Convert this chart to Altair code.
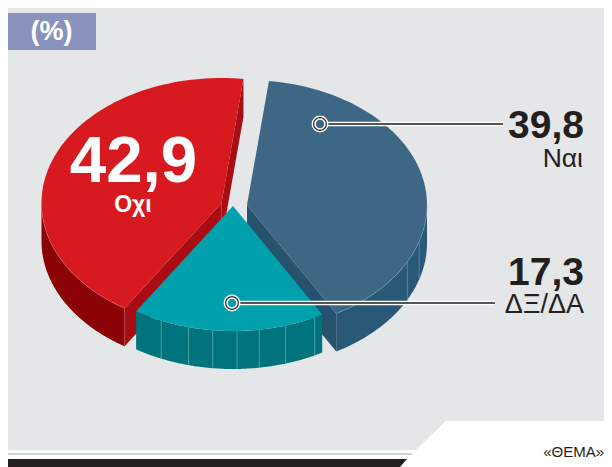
import numpy as np
import pandas as pd
import altair as alt

# --- chart values
categories = ["Ναι", "ΔΞ/ΔΑ", "Οχι"]
values = [39.8, 17.3, 42.9]
top_colors = ["#3d6785", "#00a0ad", "#d71920"]
outer_colors = ["#2a5877", "#00747c", "#8b0305"]
cut_colors = ["#27526d", "#00747c", "#aa0c14"]
start_angle = 7.0
# exploded slice apex positions (page pixels)
apex_x = [247, 233, 221.5]
apex_y = [205, 206, 203]
rx, ry, depth = 180, 125, 38
rib_angles = [[107, 117], [153, 163, 171.6, 178.7, 186.5, 194.3, 203.5], []]

RIGHT = 604
x_scale = alt.Scale(domain=[8, RIGHT], range=[0, RIGHT - 8])
y_scale = alt.Scale(domain=[8, 467], range=[0, 459])


def poly(xs, ys, color):
    df = pd.DataFrame({"x": xs, "y": ys, "i": range(len(xs))})
    return alt.Chart(df).mark_line(fill=color, strokeWidth=0, interpolate="linear-closed").encode(
        x=alt.X("x:Q", scale=x_scale, axis=None),
        y=alt.Y("y:Q", scale=y_scale, axis=None),
        order=alt.Order("i:Q"),
    )


def stroke(xs, ys, color, width, opacity=1.0):
    df = pd.DataFrame({"x": xs, "y": ys, "i": range(len(xs))})
    return alt.Chart(df).mark_line(color=color, strokeWidth=width, opacity=opacity).encode(
        x=alt.X("x:Q", scale=x_scale, axis=None),
        y=alt.Y("y:Q", scale=y_scale, axis=None),
        order=alt.Order("i:Q"),
    )


def label(text, x, y, size, color="#231f20", bold=True, align="right"):
    df = pd.DataFrame({"x": [x], "y": [y], "t": [text]})
    return alt.Chart(df).mark_text(
        font="Liberation Sans", fontSize=size, fontWeight="bold" if bold else "normal",
        color=color, align=align, baseline="alphabetic",
    ).encode(
        x=alt.X("x:Q", scale=x_scale, axis=None),
        y=alt.Y("y:Q", scale=y_scale, axis=None),
        text="t:N",
    )


def dot(x, y, size, color):
    df = pd.DataFrame({"x": [x], "y": [y]})
    return alt.Chart(df).mark_point(filled=True, size=size, color=color, opacity=1, strokeWidth=0).encode(
        x=alt.X("x:Q", scale=x_scale, axis=None),
        y=alt.Y("y:Q", scale=y_scale, axis=None),
    )


def rim(cx, cy, a0, a1, n=90):
    t = np.radians(np.linspace(a0, a1, n))
    return cx + rx * np.sin(t), cy - ry * np.cos(t)


# slice angle spans follow from the values
spans = []
a = start_angle
for v in values:
    spans.append((a, a + v * 3.6))
    a += v * 3.6

layers = []

# panel background and footer
layers.append(poly([8, RIGHT, RIGHT, 445.7, 416, 8], [8, 8, 421, 421, 450, 450], "#e4e6e8"))
layers.append(stroke([8, 412], [454, 454], "#a8a8a8", 1.2))
layers.append(poly([8, 407, 400, 8], [459, 459, 467, 467], "#231f20"))

# unit badge
layers.append(poly([8, 96, 96, 8], [13, 13, 50, 50], "#8a93bd"))
layers.append(label("(%)", 51.5, 40, 27, color="#ffffff", align="center"))


def side_faces(k, a0, a1):
    cx, cy = apex_x[k], apex_y[k]
    xs, ys = rim(cx, cy, a0, a1)
    return poly(list(xs) + list(xs[::-1]), list(ys) + list((ys + depth)[::-1]), outer_colors[k])


def cut_face(k, angle):
    cx, cy = apex_x[k], apex_y[k]
    ex, ey = rim(cx, cy, angle, angle, 1)
    return poly([cx, ex[0], ex[0], cx], [cy, ey[0], ey[0] + depth, cy + depth], cut_colors[k])


def ribs(k, light):
    out = []
    cx, cy = apex_x[k], apex_y[k]
    for r in rib_angles[k]:
        ex, ey = rim(cx, cy, r, r, 1)
        out.append(stroke([ex[0], ex[0]], [ey[0], ey[0] + depth], light, 0.7))
    return out


def top(k):
    cx, cy = apex_x[k], apex_y[k]
    xs, ys = rim(cx, cy, *spans[k])
    return poly([cx] + list(xs), [cy] + list(ys), top_colors[k])


# blue slice
layers += [cut_face(0, spans[0][1]), side_faces(0, 90, spans[0][1])]
layers += ribs(0, "#6f90a6")
layers.append(top(0))
xs, ys = rim(apex_x[0], apex_y[0], 90, spans[0][1])
layers.append(stroke(list(xs), list(ys), "#7f9cb1", 0.6))

# red slice
red_a0, red_a1 = spans[2]
layers += [side_faces(2, red_a0, 270), cut_face(2, red_a0), cut_face(2, red_a1)]
layers.append(top(2))
xs, ys = rim(apex_x[2], apex_y[2], red_a0, 270)
layers.append(stroke(list(xs), list(ys), "#e2676a", 0.5))
ex, ey = rim(apex_x[2], apex_y[2], red_a0, red_a0, 1)
layers.append(stroke([ex[0], ex[0]], [ey[0], ey[0] + depth], "#b8484c", 0.6))

# teal slice
layers.append(side_faces(1, *spans[1]))
layers += ribs(1, "#62b3b9")
layers.append(top(1))

# leaders
for (x0, x1, y, fill) in [(320, 503, 124, top_colors[0]), (232, 495, 303, top_colors[1])]:
    layers.append(stroke([x0, x1], [y, y], "#ffffff", 4.5))
    layers.append(stroke([x0, x1], [y, y], "#555555", 2.2))
    layers.append(dot(x0, y, 283, "#ffffff"))
    layers.append(dot(x0, y, 200, "#333333"))
    layers.append(dot(x0, y, 133, "#ffffff"))
    layers.append(dot(x0, y, 70, fill))


def fmt(v):
    return f"{v:.1f}".replace(".", ",")


layers.append(label(fmt(values[2]), 133.5, 182, 65.5, color="#ffffff", align="center"))
layers.append(label(categories[2], 133, 212, 23, color="#ffffff", align="center"))
layers.append(label(fmt(values[0]), 584, 138, 39))
layers.append(label(categories[0], 583, 167, 26.5, bold=False))
layers.append(label(fmt(values[1]), 584, 285, 39))
layers.append(label(categories[1], 584, 313, 27, bold=False))
layers.append(label("«ΘΕΜΑ»", RIGHT, 457, 15, bold=False))

chart = alt.layer(*layers).properties(
    width=RIGHT - 8, height=459, padding=0, autosize=alt.AutoSizeParams(type="none"),
    background="#ffffff",
).configure_view(stroke=None)

chart.save("out.html", embed_options={"renderer": "svg", "actions": False})
